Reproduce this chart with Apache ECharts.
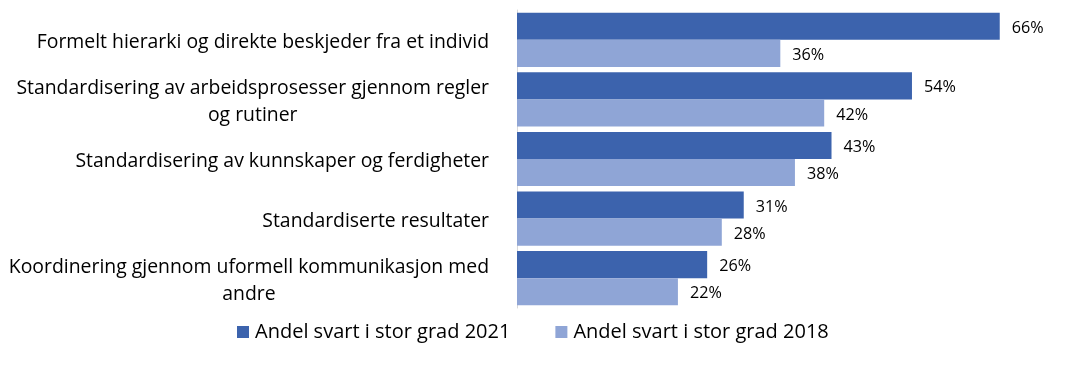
<!DOCTYPE html>
<html>
<head>
<meta charset="utf-8">
<script src="https://cdn.jsdelivr.net/npm/echarts@6/dist/echarts.min.js"></script>
<style>
html,body{margin:0;padding:0;background:#fff;}
#chart{width:1082px;height:368px;}
</style>
</head>
<body>
<div id="chart"></div>
<script>
const categories = [
  ["Formelt hierarki og direkte beskjeder fra et individ"],
  ["Standardisering av arbeidsprosesser gjennom regler", "og rutiner"],
  ["Standardisering av kunnskaper og ferdigheter"],
  ["Standardiserte resultater"],
  ["Koordinering gjennom uformell kommunikasjon med", "andre"]
];
const series2021 = [66, 54, 43, 31, 26];
const series2018 = [36, 42, 38, 28, 22];
const seriesNames = ["Andel svart i stor grad 2021", "Andel svart i stor grad 2018"];

const FONT = 'Open Sans';
const LABEL_SIZE = 19.4;
const canvas = document.createElement('canvas');
const ctx = canvas.getContext('2d');
ctx.font = LABEL_SIZE + 'px "' + FONT + '"';

const rich = {};
const labels = categories.map((lines, i) => {
  if (lines.length === 1) return lines[0];
  const w = ctx.measureText(lines[0]).width;
  rich['c' + i] = { width: w, align: 'center', fontFamily: FONT, fontSize: LABEL_SIZE, color: '#000', lineHeight: 27 };
  rich['f' + i] = { fontFamily: FONT, fontSize: LABEL_SIZE, color: '#000', lineHeight: 27 };
  return '{f' + i + '|' + lines[0] + '}\n{c' + i + '|' + lines[1] + '}';
});

const chart = echarts.init(document.getElementById('chart'), null, { renderer: 'canvas' });
chart.setOption({
  animation: false,
  backgroundColor: '#fff',
  textStyle: { fontFamily: FONT },
  grid: { left: 517, top: 10, bottom: 60, right: 53 },
  legend: {
    top: 322,
    left: 237,
    itemWidth: 12,
    itemHeight: 12,
    itemGap: 45,
    icon: 'rect',
    padding: 0,
    textStyle: { fontFamily: FONT, fontSize: 20, color: '#000', padding: [0, 0, 0, 1] },
    data: seriesNames
  },
  xAxis: {
    type: 'value', min: 0, max: 70, show: false
  },
  yAxis: {
    type: 'category',
    inverse: true,
    data: labels,
    axisLine: { show: true, lineStyle: { color: '#D9D9D9', width: 1 } },
    axisTick: { show: false },
    axisLabel: { margin: 28, padding: [5, 0, 0, 0], fontFamily: FONT, fontSize: LABEL_SIZE, color: '#000', lineHeight: 27, rich: rich }
  },
  series: [
    {
      name: seriesNames[0], type: 'bar', data: series2021,
      barGap: '0%', barCategoryGap: '9%',
      itemStyle: { color: '#3C63AD' },
      label: { show: true, position: 'right', distance: 12, formatter: '{c}%', fontFamily: FONT, fontSize: 16.2, color: '#000', offset: [0, 2] }
    },
    {
      name: seriesNames[1], type: 'bar', data: series2018,
      barGap: '0%', barCategoryGap: '9%',
      itemStyle: { color: '#8FA5D6' },
      label: { show: true, position: 'right', distance: 12, formatter: '{c}%', fontFamily: FONT, fontSize: 16.2, color: '#000', offset: [0, 2] }
    }
  ]
});
</script>
</body>
</html>
